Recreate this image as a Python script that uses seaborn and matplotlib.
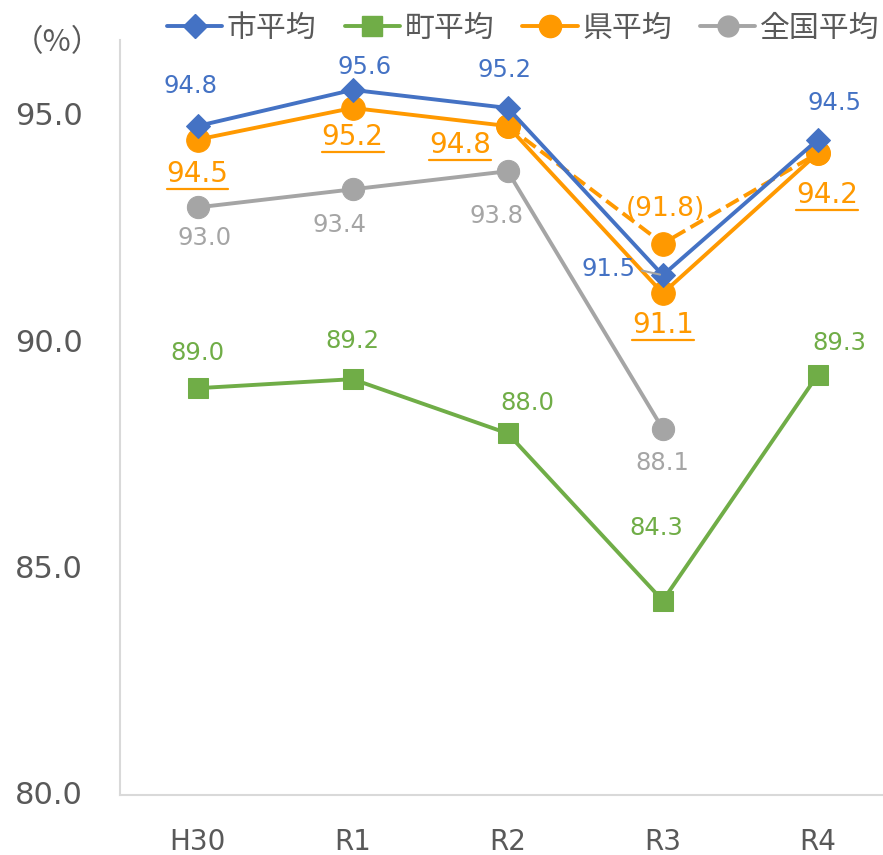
import numpy as np
import pandas as pd
import matplotlib
matplotlib.use("Agg")
import matplotlib.pyplot as plt
import seaborn as sns
from matplotlib.lines import Line2D
from matplotlib.transforms import ScaledTranslation

# data
years = ["H30", "R1", "R2", "R3", "R4"]
city = [94.8, 95.6, 95.2, 91.5, 94.5]        # 市平均
town = [89.0, 89.2, 88.0, 84.3, 89.3]        # 町平均
pref = [94.5, 95.2, 94.8, 91.1, 94.2]        # 県平均
pref_alt_years = ["R2", "R3", "R4"]
pref_alt = [94.8, 92.2, 94.2]                # 県平均 dashed line (point as plotted)
pref_alt_label = "(91.8)"                    # label shown at R3
nat_years = ["H30", "R1", "R2", "R3"]
national = [93.0, 93.4, 93.8, 88.1]          # 全国平均

BLUE = "#4472C4"
GREEN = "#70AD47"
ORANGE = "#FF9900"
GRAY = "#A5A5A5"
TXT = "#595959"

sns.set_theme(style="white")
plt.rcParams["font.family"] = ["DejaVu Sans", "Noto Sans CJK JP"]

fig = plt.figure(figsize=(8.83, 8.55), dpi=100)
ax = fig.add_axes([120 / 883, 60 / 855, 1 - 120 / 883, 755 / 855])

pos = {y: i for i, y in enumerate(years)}
LW = 2.8

def draw(xs, vals, color, marker, ms, ls="-", z=2):
    df = pd.DataFrame({"x": [pos[x] for x in xs], "v": vals})
    sns.lineplot(data=df, x="x", y="v", ax=ax, color=color, marker=marker,
                 markersize=ms, markeredgecolor=color, linewidth=LW,
                 linestyle=ls, legend=False, zorder=z)

draw(years, town, GREEN, "s", 14, z=2)
draw(nat_years, national, GRAY, "o", 16, z=2)
draw(pref_alt_years, pref_alt, ORANGE, "o", 17, ls="--", z=3)
draw(years, pref, ORANGE, "o", 17, z=3)
draw(years, city, BLUE, "D", 12, z=4)

ax.set_xlim(-0.5, 4.42)
ax.set_ylim(80, 80 + 755 / 45.2)
ax.set_yticks([80, 85, 90, 95])
ax.set_yticklabels([f"{t:.1f}" for t in [80, 85, 90, 95]])
ax.set_xticks(range(len(years)))
ax.set_xticklabels(years)
ax.set_xlabel("")
ax.set_ylabel("")
ax.tick_params(axis="y", labelsize=22, colors=TXT, length=0, pad=27)
ax.tick_params(axis="x", labelsize=20, colors=TXT, length=0, pad=24)
for t in ax.get_yticklabels():
    t.set_transform(t.get_transform() + ScaledTranslation(0, 0.03, fig.dpi_scale_trans))
for s in ["top", "right"]:
    ax.spines[s].set_visible(False)
for s in ["left", "bottom"]:
    ax.spines[s].set_color("#D9D9D9")
    ax.spines[s].set_linewidth(1.5)

def lab(x, v, text, dx, dy, color, size):
    return ax.annotate(text, (pos[x], v), xytext=(dx, dy),
                       textcoords="offset pixels", ha="center", va="center",
                       color=color, fontsize=size, zorder=6)

# 市平均 labels
city_off = [(-7, 40), (12, 23), (-3, 38), None, (17, 37)]
for x, v, o in zip(years, city, city_off):
    if o:
        lab(x, v, f"{v:.1f}", o[0], o[1], BLUE, 17.5)
ax.annotate(f"{city[3]:.1f}", (pos["R3"], city[3]), xytext=(-54, 6),
            textcoords="offset pixels", ha="center", va="center", color=BLUE,
            fontsize=17.5, zorder=6,
            arrowprops=dict(arrowstyle="-", color=GRAY, lw=1.5, shrinkA=2,
                            shrinkB=2, relpos=(1, 0.5)))

# 県平均 labels (underlined)
pref_off = [(0, -34), (0, -29), (-48, -19), (0, -32), (9, -42)]
under = []
for x, v, o in zip(years, pref, pref_off):
    under.append(lab(x, v, f"{v:.1f}", o[0], o[1], ORANGE, 20))
lab("R3", pref_alt[1], pref_alt_label, 3, 35, ORANGE, 19)

# 全国平均 labels
nat_off = [(7, -31), (-13, -36), (-11, -45), (0, -34)]
for x, v, o in zip(nat_years, national, nat_off):
    lab(x, v, f"{v:.1f}", o[0], o[1], GRAY, 17.5)

# 町平均 labels
town_off = [(0, 35), (0, 38), (20, 30), (-6, 73), (22, 32)]
for x, v, o in zip(years, town, town_off):
    lab(x, v, f"{v:.1f}", o[0], o[1], GREEN, 17.5)

handles = [
    Line2D([], [], color=BLUE, marker="D", markersize=12, lw=LW),
    Line2D([], [], color=GREEN, marker="s", markersize=14, lw=LW),
    Line2D([], [], color=ORANGE, marker="o", markersize=16, lw=LW),
    Line2D([], [], color=GRAY, marker="o", markersize=15, lw=LW),
]
labels = ["市平均", "町平均", "県平均", "全国平均"]
leg = fig.legend(handles, labels, loc="upper left",
                 bbox_to_anchor=(155 / 883, 1 - 2 / 855), ncol=4,
                 frameon=False, fontsize=21.5, handlelength=1.85,
                 handletextpad=0.15, columnspacing=0.95, borderaxespad=0)
for t in leg.get_texts():
    t.set_color(TXT)

fig.text(57 / 883, 1 - 43 / 855, "（%）", ha="center", va="center",
         fontsize=22, color=TXT, family=["Noto Sans CJK JP", "DejaVu Sans"])

# underline the 県平均 labels
fig.canvas.draw()
W, H = fig.canvas.get_width_height()
for t in under:
    bb = t.get_window_extent()
    yline = (bb.y0 - 1) / H
    fig.add_artist(Line2D([bb.x0 / W, bb.x1 / W], [yline, yline],
                          color=ORANGE, lw=1.6, transform=fig.transFigure))

fig.savefig("out.png", dpi=100)
